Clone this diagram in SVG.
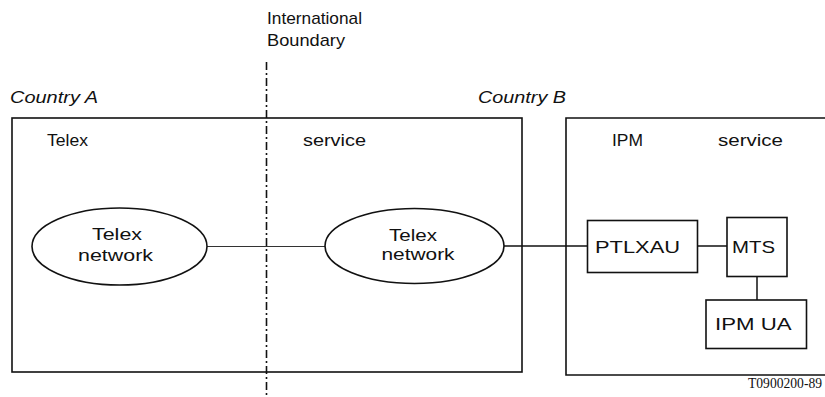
<svg xmlns="http://www.w3.org/2000/svg" width="825" height="397" viewBox="0 0 825 397">
  <style>
    .frame { fill: none; stroke: #111; stroke-width: 1.6; }
    .node { fill: #fff; stroke: #111; stroke-width: 1.6; }
    .link { fill: none; stroke: #111; stroke-width: 1.5; }
    .thin { fill: none; stroke: #333; stroke-width: 1; }
    .boundary { fill: none; stroke: #111; stroke-width: 1.6; stroke-dasharray: 8 3 2 3; }
    text { font-family: "Liberation Sans", Arial, sans-serif; font-size: 17px; fill: #111; }
    .it { font-style: italic; }
    .ref { font-family: "Liberation Serif", "Times New Roman", serif; font-size: 14px; }
  </style>
  <rect width="825" height="397" fill="#fff"/>

  <!-- Service areas -->
  <g id="telex-service-area">
    <rect class="frame" x="12" y="118" width="510" height="254"/>
    <text x="47" y="146" textLength="41" lengthAdjust="spacingAndGlyphs">Telex</text>
    <text x="303" y="146" textLength="63" lengthAdjust="spacingAndGlyphs">service</text>
  </g>
  <g id="ipm-service-area">
    <path class="frame" d="M825,118 H566 V375 H825"/>
    <text x="612" y="146" textLength="31" lengthAdjust="spacingAndGlyphs">IPM</text>
    <text x="718" y="146" textLength="65" lengthAdjust="spacingAndGlyphs">service</text>
  </g>

  <!-- Country labels and border -->
  <g id="labels">
    <text class="it" x="10" y="103" textLength="88" lengthAdjust="spacingAndGlyphs">Country A</text>
    <text class="it" x="478" y="103" textLength="88" lengthAdjust="spacingAndGlyphs">Country B</text>
    <text x="267" y="24" textLength="95" lengthAdjust="spacingAndGlyphs">International</text>
    <text x="267" y="46" textLength="78" lengthAdjust="spacingAndGlyphs">Boundary</text>
    <text class="ref" x="748" y="388" textLength="74" lengthAdjust="spacingAndGlyphs">T0900200-89</text>
  </g>
  <g id="international-boundary">
    <line class="boundary" x1="266.5" y1="62" x2="266.5" y2="397"/>
  </g>

  <!-- Connectors -->
  <g id="connectors">
    <line class="thin" x1="207" y1="246.5" x2="325" y2="246.5"/>
    <line class="link" x1="504" y1="246" x2="587" y2="246"/>
    <line class="link" x1="697" y1="246" x2="727" y2="246"/>
    <line class="link" x1="757" y1="277" x2="757" y2="300"/>
  </g>

  <!-- Nodes -->
  <g id="telex-network-a">
    <ellipse class="node" cx="119.5" cy="246.5" rx="87.5" ry="38.5"/>
    <text x="92" y="240" textLength="50" lengthAdjust="spacingAndGlyphs">Telex</text>
    <text x="78" y="261" textLength="75" lengthAdjust="spacingAndGlyphs">network</text>
  </g>
  <g id="telex-network-b">
    <ellipse class="node" cx="414.5" cy="246" rx="89.5" ry="37.5"/>
    <text x="389" y="241" textLength="48" lengthAdjust="spacingAndGlyphs">Telex</text>
    <text x="381.5" y="260" textLength="73" lengthAdjust="spacingAndGlyphs">network</text>
  </g>
  <g id="ptlxau">
    <rect class="node" x="587.5" y="220.5" width="110" height="52"/>
    <text x="595" y="253" font-size="19" textLength="85" lengthAdjust="spacingAndGlyphs">PTLXAU</text>
  </g>
  <g id="mts">
    <rect class="node" x="727" y="217.5" width="60" height="59"/>
    <text x="732" y="253" font-size="19" textLength="43" lengthAdjust="spacingAndGlyphs">MTS</text>
  </g>
  <g id="ipm-ua">
    <rect class="node" x="706" y="300" width="100.5" height="48.5"/>
    <text x="715" y="329.5" font-size="19" textLength="76.5" lengthAdjust="spacingAndGlyphs">IPM UA</text>
  </g>
</svg>
